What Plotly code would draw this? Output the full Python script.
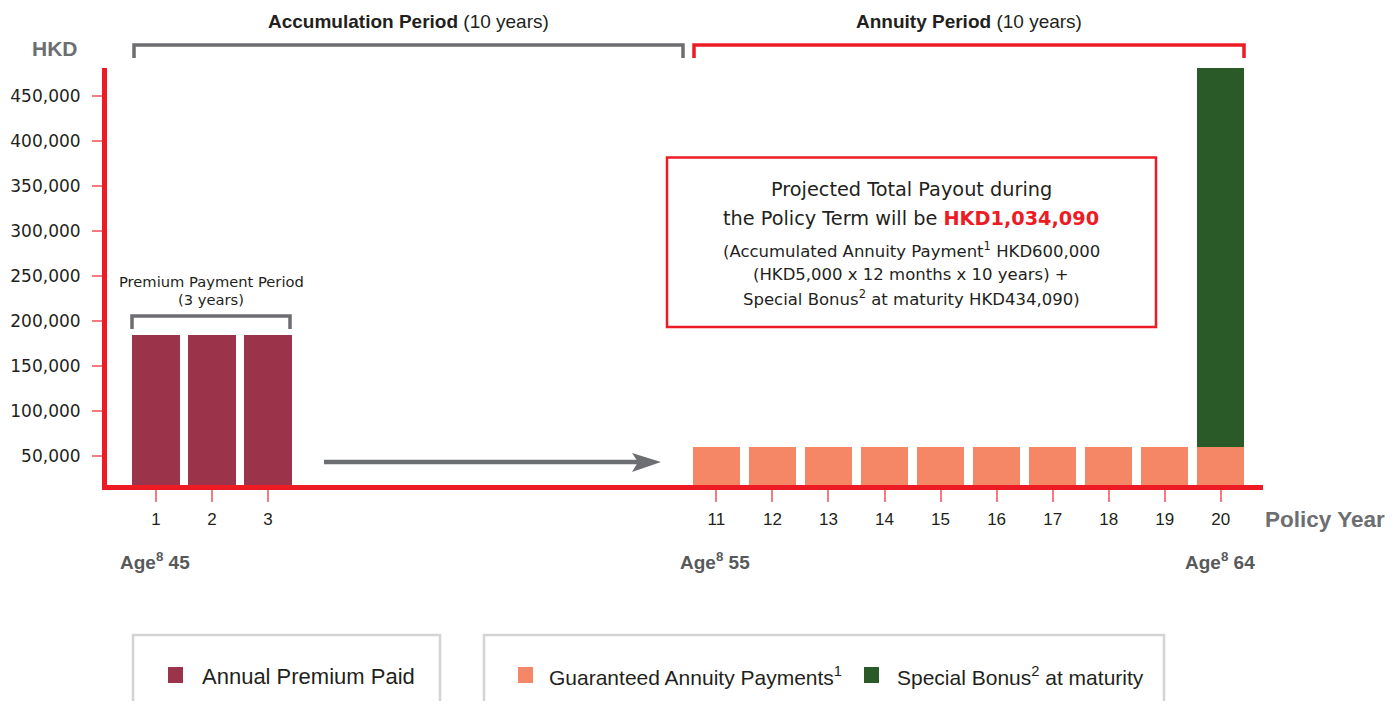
import plotly.graph_objects as go

# ---------------- data ----------------
premium_years = [1, 2, 3]
premium_values = [184000, 184000, 184000]
annuity_years = [11, 12, 13, 14, 15, 16, 17, 18, 19, 20]
annuity_values = [60000, 60000, 60000, 60000, 60000, 60000, 60000, 60000, 60000, 60000]
bonus_years = [20]
bonus_values = [434090]
x_tick_vals = [1, 2, 3, 11, 12, 13, 14, 15, 16, 17, 18, 19, 20]
x_tick_text = [str(v) for v in x_tick_vals]
y_tick_vals = [50000, 100000, 150000, 200000, 250000, 300000, 350000, 400000, 450000]
y_tick_text = ["50,000", "100,000", "150,000", "200,000", "250,000", "300,000", "350,000", "400,000", "450,000"]

# ---------------- styling ----------------
RED = "#ED1C24"
TICKRED = "#F47C80"
GREY = "#6D6E71"
DARK = "#231F20"
C_PREM = "#9B344A"
C_ANN = "#F58766"
C_BON = "#2A5A28"
SANS = "Liberation Sans, Arial, sans-serif"
WIDE = "DejaVu Sans, Verdana, sans-serif"

# plot area in page pixels (the page has an 8px body margin)
OFF = 8
L, R, T, B = 107, 1263, 68, 485
W, H = 1400 - 2 * OFF, 709 - 2 * OFF


def PX(x):
    return (x - L) / (R - L)


def PY(y):
    return (B - y) / (B - T)


# pixel -> data mapping of the reference (56.04 px per year, 45 px per 50,000)
def XD(px):
    return 1 + (px - 156) / 56.04


def YD(py):
    return 50000 + (456 - py) * 50000 / 45


fig = go.Figure()
fig.add_trace(go.Bar(x=premium_years, y=premium_values, marker=dict(color=C_PREM, line=dict(width=0)),
                     name="Annual Premium Paid", showlegend=False))
fig.add_trace(go.Bar(x=annuity_years, y=annuity_values, marker=dict(color=C_ANN, line=dict(width=0)),
                     name="Guaranteed Annuity Payments", showlegend=False))
fig.add_trace(go.Bar(x=bonus_years, y=bonus_values, marker=dict(color=C_BON, line=dict(width=0)),
                     name="Special Bonus at maturity", showlegend=False))

shapes = []
annotations = []


def bracket(x1, x2, ytop, ybot, color, width):
    shapes.append(dict(type="path", xref="paper", yref="paper",
                       path=f"M {PX(x1)},{PY(ybot)} L {PX(x1)},{PY(ytop)} L {PX(x2)},{PY(ytop)} L {PX(x2)},{PY(ybot)}",
                       line=dict(color=color, width=width), fillcolor="rgba(0,0,0,0)"))


def text(x, y, s, size, family=SANS, color=DARK, xanchor="center"):
    annotations.append(dict(x=PX(x), y=PY(y), xref="paper", yref="paper", text=s, showarrow=False,
                            xanchor=xanchor, yanchor="middle", font=dict(size=size, family=family, color=color)))


# period brackets
bracket(134, 683, 45, 58, GREY, 3.5)
bracket(694, 1244, 45, 58, RED, 3.5)
text(408, 21, "<b>Accumulation Period</b> (10 years)", 19)
text(969, 21, "<b>Annuity Period</b> (10 years)", 19)

# premium payment period bracket
bracket(132, 290, 316, 329, GREY, 3.5)
text(211, 281, "Premium Payment Period", 14.7, WIDE)
text(211, 299, "(3 years)", 14.7, WIDE)

# arrow
shapes.append(dict(type="line", xref="paper", yref="paper", x0=PX(324), x1=PX(640), y0=PY(462), y1=PY(462),
                   line=dict(color=GREY, width=4.5)))
shapes.append(dict(type="path", xref="paper", yref="paper",
                   path=f"M {PX(632)},{PY(453)} L {PX(661)},{PY(462)} L {PX(632)},{PY(472)} L {PX(638)},{PY(462)} Z",
                   line=dict(width=0), fillcolor=GREY))

# payout text box
shapes.append(dict(type="rect", xref="paper", yref="paper", x0=PX(667), x1=PX(1156), y0=PY(157.5), y1=PY(327),
                   line=dict(color=RED, width=2.5), fillcolor="rgba(0,0,0,0)"))
text(911, 189, "Projected Total Payout during", 19.3, WIDE)
text(911, 218, f"the Policy Term will be <b><span style='color:{RED}'>HKD1,034,090</span></b>", 19.3, WIDE)
text(911, 250, "(Accumulated Annuity Payment<sup>1</sup> HKD600,000", 16.5, WIDE)
text(911, 274, "(HKD5,000 x 12 months x 10 years) +", 16.5, WIDE)
text(911, 298, "Special Bonus<sup>2</sup> at maturity HKD434,090)", 16.5, WIDE)

# axis titles
text(55, 48, "<b>HKD</b>", 21, SANS, GREY)
text(1263, 519, "<b>Policy Year</b>", 22.5, SANS, GREY, "left")
for xl, age in [(118, 45), (678, 55), (1183, 64)]:
    text(xl, 561, f"<b>Age<sup>8</sup> {age}</b>", 19, SANS, "#58595B", "left")

# legend boxes
LG = "#D3D4D5"
for x0, x1 in [(133, 440), (484, 1164)]:
    shapes.append(dict(type="path", xref="paper", yref="paper",
                       path=f"M {PX(x0)},{PY(720)} L {PX(x0)},{PY(635)} L {PX(x1)},{PY(635)} L {PX(x1)},{PY(720)}",
                       line=dict(color=LG, width=2.5), fillcolor="rgba(0,0,0,0)"))
for mx, col, label, tx, sz in [(168, C_PREM, "Annual Premium Paid", 200, 22),
                               (518, C_ANN, "Guaranteed Annuity Payments<sup>1</sup>", 547, 21),
                               (864, C_BON, "Special Bonus<sup>2</sup> at maturity", 895, 21)]:
    shapes.append(dict(type="rect", xref="paper", yref="paper", x0=PX(mx), x1=PX(mx + 15), y0=PY(667), y1=PY(683),
                       line=dict(width=0), fillcolor=col))
    text(tx, 676, label, sz, SANS, DARK, "left")

fig.update_layout(
    width=W, height=H,
    margin=dict(l=L - OFF, r=(1400 - OFF) - R, t=T - OFF, b=(709 - OFF) - B, autoexpand=False),
    paper_bgcolor="white", plot_bgcolor="white",
    barmode="stack", bargap=0.155,
    shapes=shapes, annotations=annotations,
    showlegend=False,
    xaxis=dict(range=[XD(L), XD(R)], tickmode="array", tickvals=x_tick_vals, ticktext=x_tick_text,
               showline=True, linecolor=RED, linewidth=5, ticks="outside", ticklen=12, tickwidth=1.5,
               tickcolor=TICKRED, showgrid=False, zeroline=False, ticklabelstandoff=3,
               tickfont=dict(family=SANS, size=17, color=DARK)),
    yaxis=dict(range=[YD(B), YD(T)], tickmode="array", tickvals=y_tick_vals, ticktext=y_tick_text,
               showline=True, linecolor=RED, linewidth=5, ticks="outside", ticklen=10, tickwidth=1.5,
               tickcolor=TICKRED, showgrid=False, zeroline=False, ticklabelstandoff=8,
               tickfont=dict(family=WIDE, size=17, color=DARK)),
)

fig.write_html("out.html")
